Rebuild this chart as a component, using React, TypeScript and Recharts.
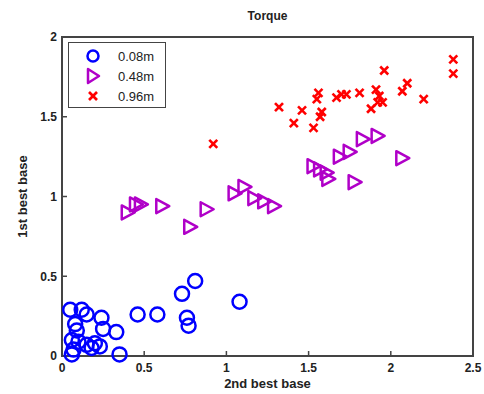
import React from "react";
import { ScatterChart, Scatter, XAxis, YAxis, Legend, ReferenceArea } from "recharts";

const xTicks = [0, 0.5, 1, 1.5, 2, 2.5];
const yTicks = [0, 0.5, 1, 1.5, 2];

const smallX = [0.05, 0.12, 0.15, 0.24, 0.25, 0.33, 0.08, 0.09, 0.06, 0.1, 0.15, 0.18, 0.2, 0.23, 0.07, 0.06, 0.35, 0.46, 0.58, 0.73, 0.81, 0.76, 0.77, 1.08];
const smallY = [0.29, 0.29, 0.26, 0.24, 0.17, 0.15, 0.2, 0.16, 0.1, 0.09, 0.07, 0.05, 0.08, 0.06, 0.04, 0.01, 0.01, 0.26, 0.26, 0.39, 0.47, 0.24, 0.19, 0.34];

const midX = [0.4, 0.45, 0.48, 0.61, 0.78, 0.88, 1.05, 1.11, 1.17, 1.23, 1.29, 1.53, 1.57, 1.61, 1.62, 1.69, 1.75, 1.78, 1.83, 1.92, 2.07];
const midY = [0.9, 0.95, 0.95, 0.94, 0.81, 0.92, 1.02, 1.06, 0.99, 0.97, 0.94, 1.19, 1.17, 1.15, 1.11, 1.25, 1.28, 1.09, 1.36, 1.38, 1.24];

const largeX = [0.92, 1.32, 1.41, 1.46, 1.53, 1.56, 1.55, 1.58, 1.57, 1.67, 1.7, 1.73, 1.81, 1.88, 1.91, 1.93, 1.95, 1.92, 1.96, 2.07, 2.1, 2.2, 2.38, 2.38];
const largeY = [1.33, 1.56, 1.46, 1.54, 1.43, 1.65, 1.61, 1.53, 1.5, 1.62, 1.64, 1.64, 1.65, 1.55, 1.67, 1.63, 1.59, 1.59, 1.79, 1.66, 1.71, 1.61, 1.86, 1.77];

const toPoints = (xs: number[], ys: number[]) => xs.map((x, i) => ({ x, y: ys[i] }));

const BLUE = "#0000ff";
const PURPLE = "#b000c8";
const RED = "#ff0000";
const FRAME = "#444";
const FONT = "'Liberation Sans', Arial, sans-serif";

const CircleMark = (p: any) => (
  <circle cx={p.cx} cy={p.cy} r={7} fill="none" stroke={BLUE} strokeWidth={2.5} />
);
const TriMark = (p: any) => (
  <polygon
    points={`${p.cx - 6},${p.cy - 7} ${p.cx + 7},${p.cy} ${p.cx - 6},${p.cy + 7}`}
    fill="none"
    stroke={PURPLE}
    strokeWidth={2.5}
    strokeLinejoin="round"
  />
);
const CrossMark = (p: any) => (
  <g stroke={RED} strokeWidth={2.6}>
    <line x1={p.cx - 4} y1={p.cy - 4} x2={p.cx + 4} y2={p.cy + 4} />
    <line x1={p.cx - 4} y1={p.cy + 4} x2={p.cx + 4} y2={p.cy - 4} />
  </g>
);

const legendItems = [
  { label: "0.08m", kind: "o" },
  { label: "0.48m", kind: "t" },
  { label: "0.96m", kind: "x" },
];

const LegendBox = () => (
  <div
    style={{
      border: "1.5px solid " + FRAME,
      background: "#fff",
      width: 98,
      height: 66,
      boxSizing: "border-box",
      paddingTop: 3,
      fontFamily: FONT,
      fontSize: 13,
      color: "#222",
    }}
  >
    {legendItems.map((it) => (
      <div key={it.label} style={{ display: "flex", alignItems: "center", height: 20 }}>
        <svg width={40} height={20}>
          {it.kind === "o" && <circle cx={24} cy={10} r={5.5} fill="none" stroke={BLUE} strokeWidth={2.5} />}
          {it.kind === "t" && (
            <polygon points="19,3 30,10 19,17" fill="none" stroke={PURPLE} strokeWidth={2.5} strokeLinejoin="round" />
          )}
          {it.kind === "x" && (
            <g stroke={RED} strokeWidth={2.6}>
              <line x1={20} y1={6} x2={28} y2={14} />
              <line x1={20} y1={14} x2={28} y2={6} />
            </g>
          )}
        </svg>
        <span style={{ marginLeft: 9 }}>{it.label}</span>
      </div>
    ))}
  </div>
);

const tickStyle = { fill: "#222", fontSize: 12, fontWeight: 700, fontFamily: FONT };
const lineStyle = { stroke: FRAME, strokeWidth: 1.5 };

export default function App() {
  return (
    <div style={{ position: "absolute", left: 0, top: 0, width: 484, height: 394, background: "#fff" }}>
      <div
        style={{
          position: "absolute",
          top: 9,
          left: 62,
          width: 411,
          textAlign: "center",
          fontFamily: FONT,
          fontWeight: 700,
          fontSize: 12,
          color: "#222",
        }}
      >
        Torque
      </div>
      <ScatterChart width={484} height={394} margin={{ top: 37, right: 11, bottom: 8, left: 10 }}>
        <ReferenceArea
          x1={0}
          x2={2.5}
          y1={0}
          y2={2}
          fill="#ffffff"
          fillOpacity={0}
          stroke={FRAME}
          strokeWidth={2}
          strokeOpacity={1}
          ifOverflow="extendDomain"
        />
        <XAxis
          type="number"
          dataKey="x"
          domain={[0, 2.5]}
          ticks={xTicks}
          height={30}
          tickSize={-5}
          tickMargin={12}
          tick={tickStyle}
          axisLine={lineStyle}
          tickLine={lineStyle}
          label={{ value: "2nd best base", position: "insideBottom", offset: -2, style: { ...tickStyle, fontSize: 13 } }}
        />
        <YAxis
          type="number"
          dataKey="y"
          domain={[0, 2]}
          ticks={yTicks}
          width={52}
          tickSize={-5}
          tickMargin={10}
          tick={tickStyle}
          axisLine={lineStyle}
          tickLine={lineStyle}
          label={{ value: "1st best base", angle: -90, position: "insideLeft", offset: 12, style: { ...tickStyle, fontSize: 13, textAnchor: "middle" } }}
        />
        <Legend
          layout="vertical"
          verticalAlign="middle"
          align="center"
          content={() => <LegendBox />}
          wrapperStyle={{ top: 42, left: 68, width: 98 }}
        />
        <Scatter name="0.08m" data={toPoints(smallX, smallY)} shape={CircleMark} isAnimationActive={false} />
        <Scatter name="0.48m" data={toPoints(midX, midY)} shape={TriMark} isAnimationActive={false} />
        <Scatter name="0.96m" data={toPoints(largeX, largeY)} shape={CrossMark} isAnimationActive={false} />
      </ScatterChart>
    </div>
  );
}
